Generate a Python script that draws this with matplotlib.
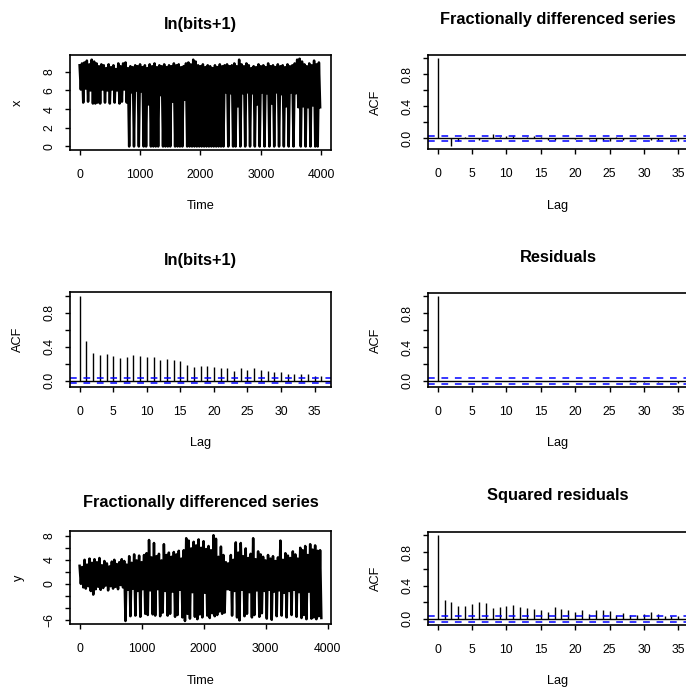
import numpy as np
import matplotlib
matplotlib.use("Agg")
import matplotlib.pyplot as plt

plt.rcParams['font.family'] = ['Liberation Sans', 'DejaVu Sans']

W, H = 686, 687

# ln(bits+1): per 40-step block, the highest and the lowest value seen
x_hi = [8.7, 8.9, 9.0, 9.2, 8.8, 9.3, 9.1, 8.9, 8.6, 8.8,
        8.7, 8.4, 8.8, 8.5, 8.7, 8.3, 8.9, 8.6, 8.9, 9.0,
        8.4, 8.6, 8.5, 8.7, 8.6, 8.8, 8.5, 8.7, 8.4, 8.8,
        8.6, 8.9, 8.5, 8.7, 8.6, 8.8, 8.5, 8.7, 8.6, 8.9,
        8.7, 8.8, 8.5, 8.6, 8.9, 9.0, 8.8, 9.3, 9.1, 8.7,
        8.6, 8.8, 8.5, 8.7, 8.6, 8.4, 8.7, 8.5, 8.8, 8.6,
        8.7, 8.8, 8.6, 8.7, 8.9, 8.6, 9.3, 8.8, 8.6, 8.9,
        8.7, 8.4, 8.6, 8.5, 8.8, 8.6, 8.7, 8.5, 8.9, 8.6,
        8.7, 8.5, 8.8, 8.6, 8.7, 8.5, 8.8, 8.6, 8.7, 8.9,
        9.3, 9.4, 9.1, 8.8, 8.6, 8.9, 8.7, 9.2, 8.8, 9.0]
x_lo = [6.1, 4.7, 6.2, 4.8, 6.0, 4.6, 4.6, 4.7, 4.6, 6.1,
        4.7, 6.0, 4.6, 6.1, 4.7, 6.0, 4.6, 4.8, 6.1, 4.7,
        0.0, 5.8, 0.0, 6.0, 0.0, 5.9, 0.0, 0.0, 4.5, 0.0,
        0.0, 0.0, 0.0, 5.5, 0.0, 0.0, 0.0, 0.0, 4.8, 0.0,
        0.0, 0.0, 0.0, 5.0, 0.0, 0.0, 0.0, 0.0, 0.0, 0.0,
        0.0, 0.0, 0.0, 0.0, 0.0, 0.0, 0.0, 0.0, 0.0, 0.0,
        5.8, 0.0, 5.7, 0.0, 0.0, 4.3, 0.0, 5.7, 0.0, 5.8,
        0.0, 5.7, 0.0, 4.5, 0.0, 5.8, 0.0, 5.7, 0.0, 4.6,
        0.0, 5.8, 0.0, 5.6, 0.0, 4.3, 0.0, 5.8, 0.0, 5.7,
        4.2, 0.0, 4.3, 0.0, 4.2, 0.0, 4.4, 0.0, 0.0, 4.2]

# fractionally differenced series, same blocks
y_hi = [3.0, 2.8, 4.0, 3.2, 4.2, 3.5, 4.1, 3.6, 4.3, 3.1,
        3.8, 3.4, 2.9, 3.7, 4.0, 3.3, 3.6, 4.1, 3.8, 3.2,
        4.6, 3.5, 4.9, 3.9, 4.7, 3.6, 4.8, 5.1, 7.3, 4.4,
        6.8, 4.6, 5.0, 3.9, 6.6, 4.8, 5.2, 4.5, 5.3, 4.9,
        5.5, 4.2, 5.6, 7.6, 7.2, 5.9, 7.0, 6.4, 7.4, 6.0,
        7.1, 5.8, 6.3, 5.6, 8.1, 7.5, 4.5, 6.2, 4.8, 3.6,
        3.4, 4.8, 4.0, 6.9, 5.2, 6.8, 4.6, 5.9, 4.3, 5.0,
        7.6, 4.1, 5.4, 4.9, 4.5, 3.9, 4.8, 4.2, 4.6, 3.8,
        4.4, 7.2, 4.0, 5.1, 4.7, 4.3, 5.4, 4.9, 4.2, 6.0,
        5.6, 6.3, 4.8, 6.6, 5.7, 6.4, 5.5, 5.6]
y_lo = [0.0, -0.6, -0.8, -0.4, -1.2, -1.8, -0.9, -0.5, -1.0, -0.7,
        -0.3, -1.1, -0.4, -0.8, -0.5, -0.9, -0.2, -0.6, -6.2, -1.0,
        -5.4, -0.8, -5.3, -1.2, -5.5, -0.9, -5.0, -5.2, -1.1, -5.1,
        -5.3, -0.9, -5.4, -4.8, -1.2, -5.3, -5.0, -1.3, -5.5, -5.2,
        -1.0, -5.6, -6.2, -5.0, -5.8, -1.4, -5.5, -5.9, -5.1, -5.6,
        -1.5, -5.3, -5.7, -4.9, -5.4, -5.2, -4.6, -5.0, -4.8, -0.9,
        -1.0, -5.3, -1.2, -5.6, -6.1, -1.0, -5.4, -5.0, -1.4, -5.6,
        -5.2, -1.1, -5.5, -4.9, -1.2, -5.8, -1.0, -6.0, -1.3, -5.4,
        -1.1, -5.3, -1.5, -5.6, -1.2, -5.2, -1.0, -5.5, -1.4, -5.7,
        -5.2, -5.9, -1.3, -5.8, -5.6, -5.9, -5.4, -5.7]
block = 40

# sample ACFs
acf_x = [1.0, 0.47, 0.325, 0.305, 0.317, 0.286, 0.266, 0.278, 0.305, 0.286,
         0.282, 0.274, 0.246, 0.254, 0.246, 0.23, 0.187, 0.163, 0.179, 0.179,
         0.167, 0.151, 0.147, 0.115, 0.147, 0.123, 0.147, 0.123, 0.119, 0.099,
         0.107, 0.079, 0.083, 0.075, 0.075, 0.06, 0.056]
acf_y = [1.0, 0.0, -0.09, -0.03, 0.02, 0.01, -0.02, 0.01, 0.05, 0.02,
         0.03, 0.03, 0.01, 0.02, 0.03, 0.02, -0.02, -0.02, 0.01, 0.01,
         -0.01, 0.01, -0.01, -0.03, -0.02, -0.03, 0.02, -0.02, 0.01, -0.01,
         0.01, -0.02, -0.02, 0.01, -0.01, -0.03]
acf_res = [1.0, 0.0, 0.0, 0.0, 0.0, 0.0, 0.0, 0.0, 0.0, 0.0,
           0.0, 0.0, 0.0, 0.0, 0.0, 0.0, 0.0, 0.0, 0.0, 0.0,
           0.0, 0.0, 0.0, 0.0, 0.0, 0.0, 0.0, 0.0, 0.01, -0.01,
           -0.01, 0.0, -0.01, 0.0, 0.0, -0.02]
acf_res2 = [1.0, 0.226, 0.206, 0.158, 0.154, 0.174, 0.198, 0.186, 0.127, 0.143,
            0.154, 0.166, 0.143, 0.131, 0.119, 0.103, 0.087, 0.147, 0.119, 0.103,
            0.087, 0.107, 0.063, 0.103, 0.103, 0.095, 0.048, 0.067, 0.051, 0.048,
            0.055, 0.079, 0.059, 0.036, 0.032, 0.04]
n_x, n_y = 4000, 3900

fig = plt.figure(figsize=(W / 100, H / 100), dpi=100)


def px_axes(x0, y0, x1, y1):
    return fig.add_axes([x0 / W, 1 - y1 / H, (x1 - x0) / W, (y1 - y0) / H])


def style(ax, xt, yt, ylabels):
    for s in ax.spines.values():
        s.set_linewidth(1.2)
    ax.set_xticks(xt)
    ax.set_yticks(yt)
    ax.set_yticklabels(ylabels, rotation=90, va='center')
    ax.tick_params(axis='both', direction='out', length=3.6, width=1.0, labelsize=8.8)
    ax.tick_params(axis='x', pad=10)
    ax.tick_params(axis='y', pad=6.6)


def labels(x0, x1, ybox0, title, title_base, xlab, xlab_base, ylab, ylab_base, ybox1):
    fig.text((x0 + x1) / 2 / W, 1 - title_base / H, title, fontsize=11.8,
             fontweight='bold', ha='center', va='baseline')
    fig.text((x0 + x1) / 2 / W, 1 - xlab_base / H, xlab, fontsize=9.2,
             ha='center', va='baseline')
    fig.text(ylab_base / W, 1 - (ybox0 + ybox1) / 2 / H, ylab, fontsize=9.2,
             rotation=90, rotation_mode='anchor', ha='center', va='baseline')


def ts_panel(box, hi, lo, xlim, ylim, yt, ylabels):
    ax = px_axes(*box)
    t, v = [], []
    for i, (h, l) in enumerate(zip(hi, lo)):
        t += [i * block, i * block + block / 2]
        v += [h, l]
    ax.plot(t, v, color='black', lw=1.8)
    ax.set_xlim(*xlim)
    ax.set_ylim(*ylim)
    style(ax, [0, 1000, 2000, 3000, 4000], yt, ylabels)
    return ax


def acf_panel(box, acf, n):
    ax = px_axes(*box)
    lags = np.arange(len(acf))
    ci = 1.96 / np.sqrt(n)
    lo = min(min(acf), -ci)
    hi = max(max(acf), ci)
    ext = 0.04 * (hi - lo)
    ax.vlines(lags, 0, acf, color='black', lw=1.0)
    ax.axhline(0, color='black', lw=1.0)
    for c in (ci, -ci):
        ax.axhline(c, color='blue', lw=1.1, ls=(0, (4.4, 4.4)))
    m = len(acf) - 1
    ax.set_xlim(-0.04 * m, m * 1.04)
    ax.set_ylim(lo - ext, hi + ext)
    style(ax, range(0, 40, 5), [0, 0.2, 0.4, 0.6, 0.8, 1.0],
          ['0.0', '', '0.4', '', '0.8', ''])
    return ax


L0, L1 = 70, 331
R0, R1 = 428, 688

ts_panel((L0, 55, L1, 150), x_hi, x_lo, (-159, 4160), (-0.38, 9.8),
         [0, 2, 4, 6, 8], ['0', '2', '4', '6', '8'])
labels(L0, L1, 55, 'ln(bits+1)', 29, 'Time', 209, 'x', 20.7, 150)

acf_panel((R0, 55, R1, 149), acf_y, n_y)
labels(R0, R1, 55, 'Fractionally differenced series', 24, 'Lag', 209.5, 'ACF', 378.7, 149)

acf_panel((L0, 292, L1, 387), acf_x, n_x)
labels(L0, L1, 292, 'ln(bits+1)', 265, 'Lag', 446, 'ACF', 20.7, 387)

acf_panel((R0, 293, R1, 387), acf_res, n_y)
labels(R0, R1, 293, 'Residuals', 262, 'Lag', 446, 'ACF', 378.7, 387)

ts_panel((L0, 531, L1, 624), y_hi, y_lo, (-155, 4056), (-6.7, 8.8),
         [-6, -4, -2, 0, 2, 4, 6, 8], ['\u22126', '', '', '0', '', '4', '', '8'])
labels(L0, L1, 531, 'Fractionally differenced series', 507, 'Time', 684, 'y', 21.7, 624)

acf_panel((R0, 532, R1, 625), acf_res2, n_y)
labels(R0, R1, 532, 'Squared residuals', 500, 'Lag', 684, 'ACF', 378.7, 625)

fig.savefig('out.png', dpi=100)
